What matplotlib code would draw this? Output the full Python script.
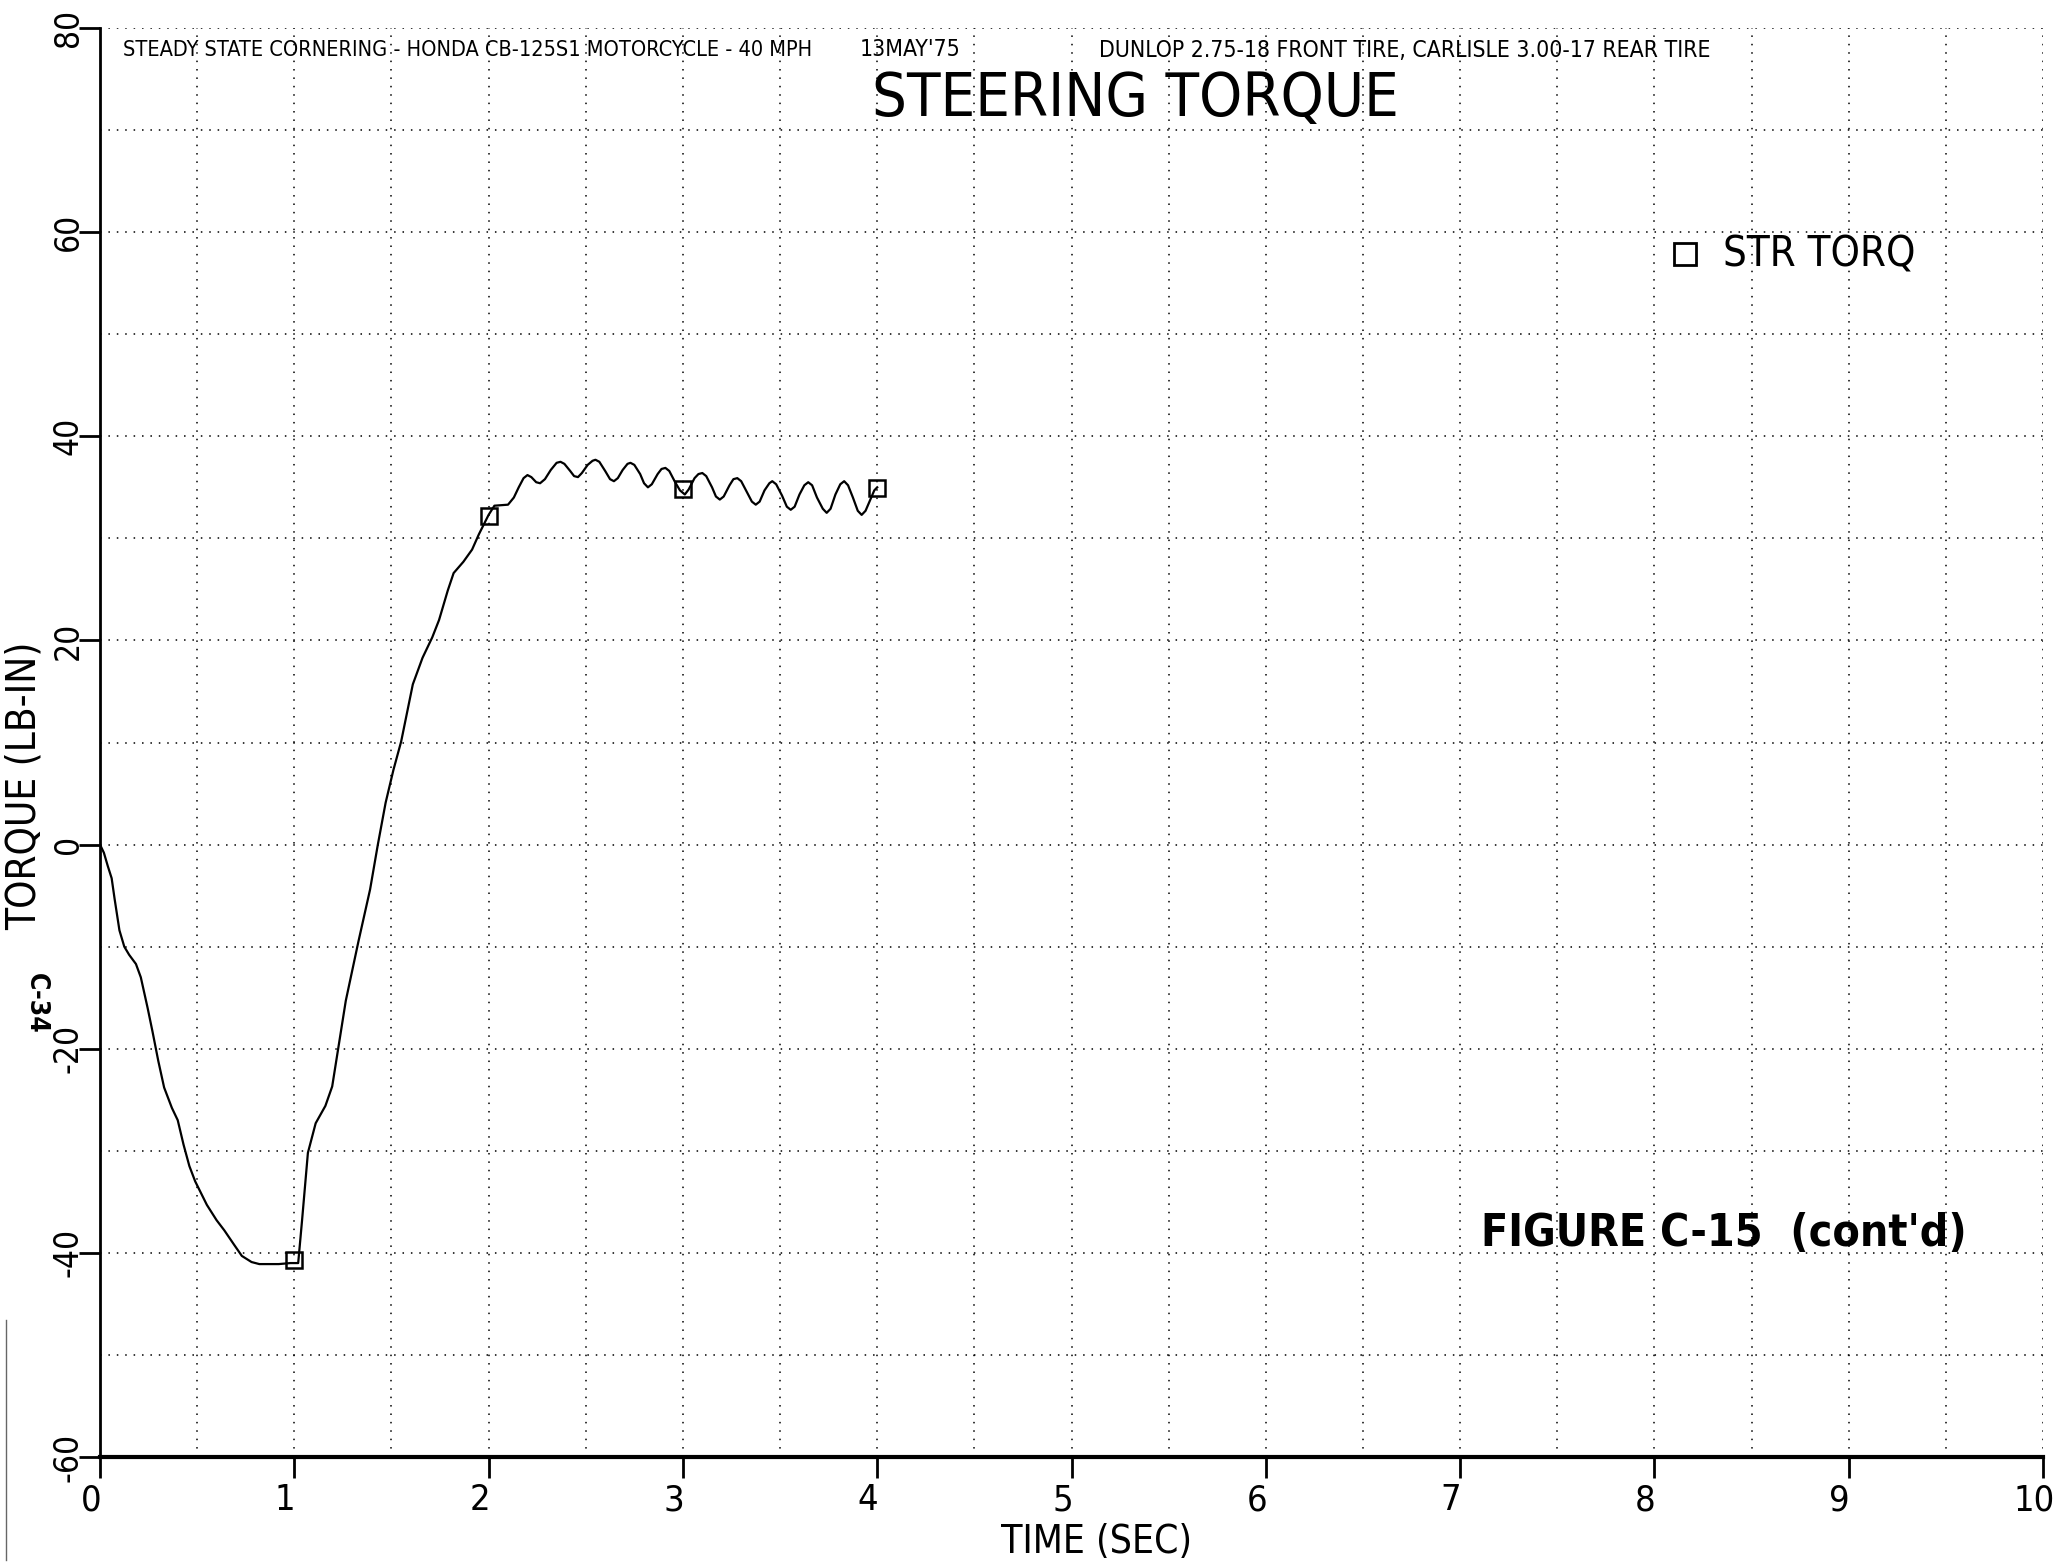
import numpy as np
import matplotlib
matplotlib.use("Agg")
from matplotlib import pyplot as plt
from matplotlib.lines import Line2D
from matplotlib.transforms import ScaledTranslation

# steering torque trace (time in s, torque in lb-in)
time_s = [0.0, 0.02, 0.04, 0.06, 0.075, 0.10, 0.125, 0.15, 0.185, 0.21, 0.245, 0.27,
          0.30, 0.33, 0.37, 0.40, 0.43, 0.46, 0.49, 0.55, 0.60, 0.64, 0.69, 0.73,
          0.78, 0.82, 0.92, 0.98, 1.02, 1.04, 1.07, 1.11, 1.16, 1.195, 1.23, 1.265,
          1.33, 1.39, 1.43, 1.47, 1.51, 1.55, 1.61, 1.66, 1.71, 1.745, 1.79, 1.82,
          1.87, 1.915, 1.95, 2.0, 2.03, 2.10, 2.13, 2.155, 2.18, 2.20, 2.22, 2.245,
          2.265, 2.29, 2.32, 2.35, 2.37, 2.39, 2.42, 2.44, 2.46, 2.48, 2.51, 2.535,
          2.55, 2.57, 2.60, 2.625, 2.645, 2.665, 2.69, 2.715, 2.73, 2.75, 2.78, 2.80,
          2.82, 2.84, 2.87, 2.89, 2.91, 2.93, 2.96, 2.985, 3.01, 3.03, 3.06, 3.08,
          3.10, 3.12, 3.15, 3.17, 3.19, 3.21, 3.24, 3.26, 3.28, 3.30, 3.33, 3.355,
          3.375, 3.395, 3.42, 3.445, 3.46, 3.48, 3.51, 3.535, 3.555, 3.575, 3.60, 3.625,
          3.645, 3.665, 3.69, 3.72, 3.74, 3.76, 3.785, 3.81, 3.83, 3.85, 3.875, 3.90,
          3.92, 3.94, 3.965, 3.985, 4.0]
torque = [0.0, -0.8, -2.1, -3.3, -5.3, -8.4, -10.0, -10.8, -11.7, -13.0, -16.0, -18.3,
          -21.2, -23.8, -25.8, -27.0, -29.4, -31.5, -33.0, -35.3, -36.8, -37.8, -39.2, -40.3,
          -40.9, -41.1, -41.1, -41.0, -41.0, -36.8, -30.2, -27.3, -25.6, -23.7, -19.5, -15.3,
          -9.5, -4.4, 0.0, 4.1, 7.3, 10.1, 15.7, 18.3, 20.3, 22.0, 24.9, 26.6,
          27.7, 28.9, 30.4, 32.3, 33.2, 33.3, 34.0, 35.0, 35.9, 36.2, 36.0, 35.5,
          35.4, 35.8, 36.7, 37.4, 37.5, 37.3, 36.6, 36.1, 36.0, 36.4, 37.2, 37.6,
          37.7, 37.5, 36.6, 35.8, 35.6, 35.9, 36.7, 37.3, 37.4, 37.2, 36.3, 35.4,
          35.0, 35.3, 36.3, 36.8, 36.9, 36.6, 35.5, 34.7, 34.3, 34.8, 35.9, 36.3,
          36.4, 36.1, 35.0, 34.1, 33.8, 34.1, 35.2, 35.8, 35.9, 35.6, 34.5, 33.6,
          33.3, 33.6, 34.7, 35.4, 35.6, 35.3, 34.2, 33.1, 32.8, 33.1, 34.3, 35.2,
          35.5, 35.2, 34.0, 32.9, 32.5, 32.9, 34.3, 35.3, 35.6, 35.2, 34.0, 32.7,
          32.3, 32.7, 33.8, 34.7, 35.0]

# square symbols placed every second along the trace
marker_t = [1.0, 2.0, 3.0, 4.0]
marker_y = [-40.7, 32.2, 34.8, 34.9]

x_ticks = list(range(0, 11))
y_ticks = [-60, -40, -20, 0, 20, 40, 60, 80]

W, H = 2070, 1567
fig = plt.figure(figsize=(W / 100, H / 100), dpi=100)
plt.rcParams['font.family'] = ['DejaVu Sans']
plt.rcParams['font.stretch'] = 'condensed'


def px(x, y):
    # figure fraction from pixel position (top-left origin)
    return x / W, 1 - y / H


ax = fig.add_axes([100 / W, (H - 1457) / H, 1943 / W, 1429 / H])
ax.set_xlim(0, 10)
ax.set_ylim(-60, 80)

ax.set_xticks(x_ticks)
ax.set_xticks(np.arange(0.5, 10, 1), minor=True)
ax.set_yticks(y_ticks)
ax.set_yticks(np.arange(-50, 80, 20), minor=True)
ax.set_xticklabels([str(v) for v in x_ticks])
ax.set_yticklabels([str(v) for v in y_ticks])

ax.grid(which='both', color='k', lw=1.1, ls=(0, (1, 4.5)))
ax.tick_params(which='major', length=15, width=2, direction='out', colors='k')
ax.tick_params(axis='x', pad=4, labelsize=26)
ax.tick_params(axis='y', labelrotation=90, pad=-4, labelsize=24)
ax.tick_params(which='minor', length=0)
for lab in ax.get_yticklabels():
    lab.set_va('center')
# plotter put the x labels a little left of their ticks
shift = ScaledTranslation(-9 / 100, 0, fig.dpi_scale_trans)
for lab in ax.get_xticklabels():
    lab.set_transform(lab.get_transform() + shift)

for s in ['top', 'right']:
    ax.spines[s].set_visible(False)
ax.spines['left'].set_linewidth(2)
ax.spines['bottom'].set_linewidth(3)

ax.plot(time_s, torque, color='k', lw=1.6)
ax.plot(marker_t, marker_y, 's', mfc='none', mec='k', ms=12, mew=1.8)

# legend entry drawn by hand like the plotter did
ax.plot([0.8157], [0.8418], 's', transform=ax.transAxes, mfc='none',
        mec='k', ms=16, mew=2, clip_on=False)
ax.text(0.8353, 0.8418, 'STR TORQ', transform=ax.transAxes, fontsize=30,
        va='center', ha='left')

# header lines and title
fig.text(*px(123, 50), 'STEADY STATE CORNERING - HONDA CB-125S1 MOTORCYCLE - 40 MPH',
         fontsize=15.6, va='center', ha='left')
fig.text(*px(860, 50), "13MAY'75", fontsize=16.5, va='center', ha='left')
fig.text(*px(1099, 50), 'DUNLOP 2.75-18 FRONT TIRE, CARLISLE 3.00-17 REAR TIRE',
         fontsize=16.5, va='center', ha='left')
fig.text(*px(1135, 99), 'STEERING TORQUE', fontsize=44, fontweight='light',
         va='center', ha='center')

fig.text(*px(25, 786), 'TORQUE (LB-IN)', rotation=90, fontsize=29,
         va='center', ha='center')
fig.text(*px(36, 1003), 'C-34', rotation=-90, fontsize=19, fontweight='bold',
         va='center', ha='center')
fig.text(*px(1097, 1542), 'TIME (SEC)', fontsize=28, va='center', ha='center')

fig.text(*px(1724, 1234), "FIGURE C-15  (cont'd)", fontsize=32, fontweight='bold',
         va='center', ha='center')

# scanner edge line at far left
fig.add_artist(Line2D([6 / W, 6 / W], [1 - 1560 / H, 1 - 1320 / H], color='0.4', lw=1))

fig.savefig('out.png', dpi=100)
